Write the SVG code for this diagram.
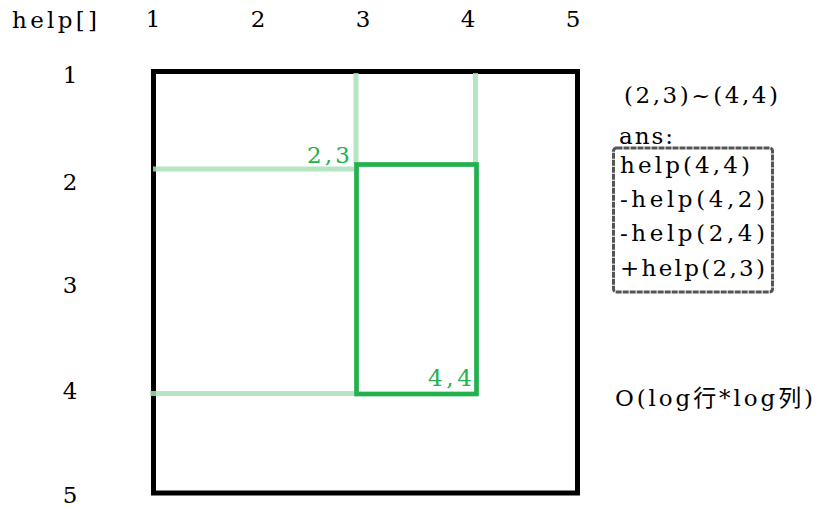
<svg xmlns="http://www.w3.org/2000/svg" width="820" height="510" viewBox="0 0 820 510">
<style>
.t{font-family:"DejaVu Serif","Liberation Serif","Noto Sans CJK SC",serif;font-size:23px;fill:#000}
.n{text-anchor:middle}
.g{fill:#22b14c;font-size:23px}
.guide{stroke:#a8e0b8;stroke-width:5;stroke-opacity:0.85;fill:none}
</style>
<rect width="820" height="510" fill="#fff"/>
<g id="axes">
<text class="t" x="12" y="28" textLength="85" lengthAdjust="spacing">help[]</text>
<text class="t n" x="153" y="27">1</text>
<text class="t n" x="258" y="27">2</text>
<text class="t n" x="363" y="27">3</text>
<text class="t n" x="468" y="27">4</text>
<text class="t n" x="573" y="27">5</text>
<text class="t n" x="70" y="83">1</text>
<text class="t n" x="70" y="190">2</text>
<text class="t n" x="70" y="293">3</text>
<text class="t n" x="70" y="399">4</text>
<text class="t n" x="70" y="503">5</text>
</g>
<g id="grid">
<rect x="153.5" y="71.5" width="424" height="421.5" fill="none" stroke="#000" stroke-width="5"/>
</g>
<g id="connectors">
<line class="guide" x1="356" y1="73" x2="356" y2="163"/>
<line class="guide" x1="475.5" y1="73" x2="475.5" y2="163"/>
<line class="guide" x1="153" y1="169" x2="354" y2="169"/>
<line class="guide" x1="150" y1="393.5" x2="354" y2="393.5"/>
</g>
<g id="subrect">
<rect x="356.5" y="164.5" width="120" height="229.5" fill="none" stroke="#22b14c" stroke-width="4.7"/>
<text class="t g" x="307" y="163" textLength="43" lengthAdjust="spacing">2,3</text>
<text class="t g" x="428" y="386" textLength="44" lengthAdjust="spacing">4,4</text>
</g>
<g id="range">
<text class="t" x="624" y="103" textLength="154" lengthAdjust="spacing">(2,3)~(4,4)</text>
</g>
<g id="ans">
<text class="t" x="619" y="144" textLength="54" lengthAdjust="spacing">ans:</text>
<rect x="613.5" y="148" width="159" height="144" rx="3" fill="none" stroke="#555" stroke-width="3" stroke-dasharray="6 1"/>
<text class="t" x="620" y="173" textLength="130" lengthAdjust="spacing">help(4,4)</text>
<text class="t" x="620" y="207" textLength="145" lengthAdjust="spacing">-help(4,2)</text>
<text class="t" x="620" y="241" textLength="145" lengthAdjust="spacing">-help(2,4)</text>
<text class="t" x="620" y="276" textLength="145" lengthAdjust="spacing">+help(2,3)</text>
</g>
<g id="complexity">
<text class="t" x="615" y="406" textLength="198" lengthAdjust="spacing">O(log行*log列)</text>
</g>
</svg>
